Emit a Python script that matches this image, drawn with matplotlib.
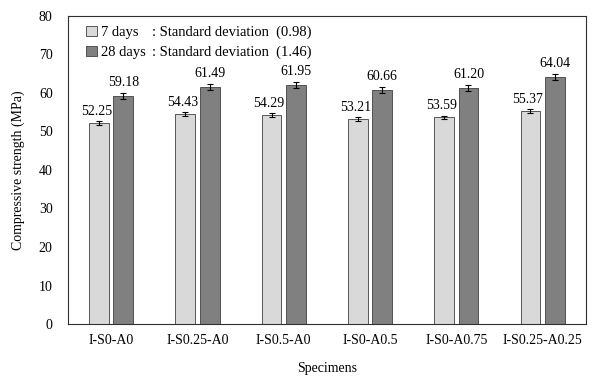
import numpy as np
import matplotlib
matplotlib.use('Agg')
import matplotlib.pyplot as plt

# Data
specimens = ['I-S0-A0', 'I-S0.25-A0', 'I-S0.5-A0', 'I-S0-A0.5', 'I-S0-A0.75', 'I-S0.25-A0.25']
days7 = [52.25, 54.43, 54.29, 53.21, 53.59, 55.37]
days28 = [59.18, 61.49, 61.95, 60.66, 61.20, 64.04]
err7 = [0.5, 0.5, 0.5, 0.5, 0.5, 0.5]
err28 = [0.7, 0.7, 0.7, 0.7, 0.7, 0.7]
series_names = ['7 days', '28 days']
std_dev = [0.98, 1.46]

plt.rcParams['font.family'] = ['Liberation Serif', 'DejaVu Serif']
plt.rcParams['font.size'] = 10

fig = plt.figure(figsize=(6.02, 3.8), dpi=100)
ax = fig.add_axes([0.113, 0.147, 0.860, 0.812])

x = np.arange(len(specimens))
w = 0.23
off = 0.141

ax.bar(x - off, days7, w, yerr=err7, color='#d9d9d9', edgecolor='#404040',
       linewidth=0.6, capsize=2.5, error_kw=dict(elinewidth=0.8, capthick=0.8),
       label=series_names[0])
ax.bar(x + off, days28, w, yerr=err28, color='#808080', edgecolor='#404040',
       linewidth=0.6, capsize=2.5, error_kw=dict(elinewidth=0.8, capthick=0.8),
       label=series_names[1])

# Значения над столбцами
for xi, v, e in zip(x, days7, err7):
    ax.text(xi - off - 0.03, v + e + 0.8, f'{v:.2f}', ha='center', va='bottom', fontsize=10)
for xi, v, e in zip(x, days28, err28):
    ax.text(xi + off, v + e + 1.2, f'{v:.2f}', ha='center', va='bottom', fontsize=10)

ax.set_xlim(-0.5, len(specimens) - 0.5)
ax.set_ylim(0, 80)
ax.set_yticks(range(0, 81, 10))
ax.set_xticks(x)
ax.set_xticklabels(specimens)
ax.tick_params(axis='y', length=0, pad=11)
ax.tick_params(axis='x', length=0, pad=7)
ax.set_xlabel('Specimens', labelpad=11)
ax.set_ylabel('Compressive strength (MPa)', labelpad=10)

for s in ax.spines.values():
    s.set_linewidth(0.8)
    s.set_color('#303030')

leg = ax.legend(loc='upper left', bbox_to_anchor=(0.01, 1.01), frameon=False,
                handlelength=0.7, handleheight=0.7, handletextpad=0.3,
                labelspacing=0.5, fontsize=10.5)
for i, sd in enumerate(std_dev):
    ax.text(0.162, 0.947 - i * 0.066, f': Standard deviation  ({sd:.2f})',
            transform=ax.transAxes, ha='left', va='center', fontsize=10.5)

fig.savefig('out.png', dpi=100)
